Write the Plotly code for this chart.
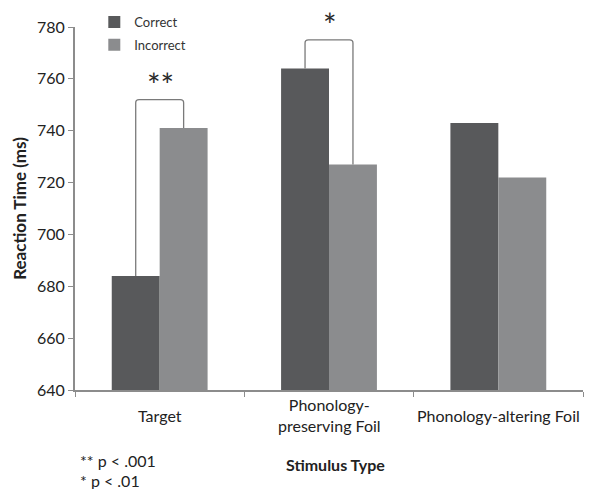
import plotly.graph_objects as go

categories = ["Target", "Phonology-<br>preserving Foil", "Phonology-altering Foil"]
correct = [684, 764, 743]
incorrect = [741, 727, 722]
series_names = ["Correct", "Incorrect"]
sig_labels = ["**", "*", ""]
footnotes = ["** p < .001", "* p < .01"]
y_ticks = [640, 660, 680, 700, 720, 740, 760, 780]

DARK = "#58595b"
LIGHT = "#8b8c8e"
AXIS = "#8c8c8c"
TXT = "#222222"
FONT = "Lato"

xpos = list(range(len(categories)))
bargap = 0.434
half = (1 - bargap) / 4  # offset from category centre to each bar centre

fig = go.Figure()
fig.add_trace(go.Bar(x=xpos, y=correct, name=series_names[0], marker=dict(color=DARK, line=dict(width=0)),
                     legend="legend"))
fig.add_trace(go.Bar(x=xpos, y=incorrect, name=series_names[1], marker=dict(color=LIGHT, line=dict(width=0)),
                     legend="legend2"))

shapes = []
annotations = []
for i, lab in enumerate(sig_labels):
    if not lab:
        continue
    a, b = correct[i], incorrect[i]
    top = max(a, b) + 11
    x0, x1 = i - half, i + half
    r, dx = 1.2, 0.02
    path = (f"M {x0},{a} L {x0},{top - r} Q {x0},{top} {x0 + dx},{top} "
            f"L {x1 - dx},{top} Q {x1},{top} {x1},{top - r} L {x1},{b}")
    shapes.append(dict(type="path", path=path, xref="x", yref="y",
                       line=dict(color="#7a7a7a", width=1.3), layer="above"))
    annotations.append(dict(x=i, y=top, xref="x", yref="y", text=lab, showarrow=False,
                            yanchor="bottom", yshift=-6, xshift=1,
                            font=dict(family=FONT, size=32, color="#2a2a2a")))

for i, c in enumerate(categories):
    annotations.append(dict(x=i, y=-0.069, xref="x", yref="paper", text=c, showarrow=False,
                            yanchor="middle", xanchor="center", align="center",
                            font=dict(family=FONT, size=16, color=TXT)))

annotations.append(dict(x=0.512, y=-0.206, xref="paper", yref="paper", text="<b>Stimulus Type</b>",
                        showarrow=False, yanchor="middle", xanchor="center",
                        font=dict(family=FONT, size=16, color=TXT)))
for k, (t, yy) in enumerate(zip(footnotes, [-0.195, -0.25])):
    annotations.append(dict(x=0.006, y=yy, xref="paper", yref="paper", text=t, showarrow=False,
                            yanchor="middle", xanchor="left", align="left",
                            font=dict(family=FONT, size=16, color=TXT)))

fig.update_layout(
    width=590, height=489,
    margin=dict(l=75, r=7, t=23, b=99),
    paper_bgcolor="white", plot_bgcolor="white",
    barmode="group", bargap=bargap, bargroupgap=0,
    font=dict(family=FONT, color=TXT),
    showlegend=True,
    legend=dict(x=0.038, y=1.0136, xanchor="left", yanchor="middle", bgcolor="rgba(0,0,0,0)",
                font=dict(family=FONT, size=13, color="#333333")),
    legend2=dict(x=0.038, y=0.951, xanchor="left", yanchor="middle", bgcolor="rgba(0,0,0,0)",
                 font=dict(family=FONT, size=13, color="#333333")),
    xaxis=dict(range=[-0.5, 2.5], tickvals=[-0.5, 0.5, 1.5, 2.5], showticklabels=False,
               ticks="outside", ticklen=5, tickcolor=AXIS, showline=True, linecolor=AXIS, linewidth=2,
               showgrid=False, zeroline=False, fixedrange=True),
    yaxis=dict(range=[640, 780], tickvals=y_ticks, ticks="outside", ticklen=5, tickcolor=AXIS,
               showline=True, linecolor=AXIS, linewidth=2, showgrid=False, zeroline=False,
               tickfont=dict(family=FONT, size=16, color=TXT),
               title=dict(text="<b>Reaction Time (ms)</b>", standoff=6,
                          font=dict(family=FONT, size=17, color=TXT))),
    shapes=shapes,
    annotations=annotations,
)

fig.write_html("out.html")
